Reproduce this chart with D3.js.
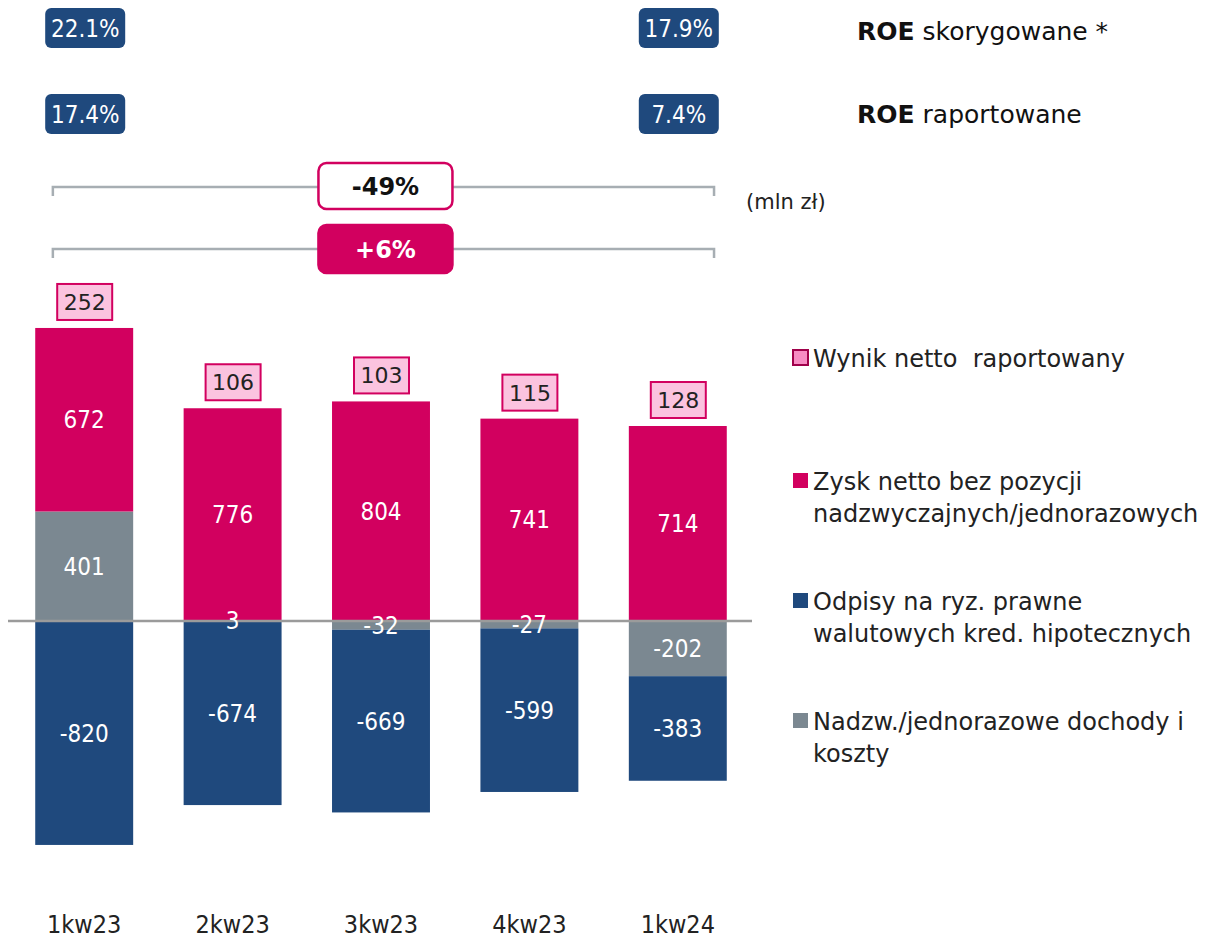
<!DOCTYPE html>
<html>
<head>
<meta charset="utf-8">
<script src="https://cdn.jsdelivr.net/npm/d3@7"></script>
<style>
  body { margin: 0; background: #fff; }
  svg { display: block; }
  .narrow { font-family: "Liberation Sans Narrow", "DejaVu Sans Condensed", sans-serif; }
  .sans { font-family: "DejaVu Sans", "Noto Sans", sans-serif; }
</style>
</head>
<body>
<div id="chart"></div>
<script>
const W = 1206, H = 938;

// data (mln zł)
const QUARTERS = ["1kw23", "2kw23", "3kw23", "4kw23", "1kw24"];
const ZYSK = [672, 776, 804, 741, 714];      // zysk netto bez poz. nadzw.
const NADZW = [401, 3, -32, -27, -202];      // nadzw./jednorazowe
const ODPISY = [-820, -674, -669, -599, -383]; // odpisy na ryz. prawne
const WYNIK = [252, 106, 103, 115, 128];     // wynik netto raportowany

const ROE_QUARTERS = ["1kw23", "1kw24"];
const ROE_ADJ = ["22.1%", "17.9%"];
const ROE_REP = ["17.4%", "7.4%"];
const CHANGES = ["-49%", "+6%"];

const PINK = "#d2005f", GREY = "#7b8891", BLUE = "#1f497d";

const rows = QUARTERS.map((q, i) => ({
  q, nadzw: NADZW[i], zysk: ZYSK[i], odpisy: ODPISY[i], wynik: WYNIK[i],
}));
const KEYS = ["nadzw", "zysk", "odpisy"];
const color = d3.scaleOrdinal().domain(KEYS).range([GREY, PINK, BLUE]);

const svg = d3.select("#chart").append("svg").attr("width", W).attr("height", H);

const x = d3.scaleBand().domain(QUARTERS).range([10, 752])
  .paddingInner(0.34).paddingOuter(0.17);
const y = d3.scaleLinear().domain([-1000, 1000]).range([621 + 273.1, 621 - 273.1]);

const series = d3.stack().keys(KEYS).offset(d3.stackOffsetDiverging)(rows);

// bars
const layer = svg.append("g").selectAll("g").data(series).join("g")
  .attr("fill", d => color(d.key));
layer.selectAll("rect").data(d => d).join("rect")
  .attr("x", d => x(d.data.q))
  .attr("width", x.bandwidth())
  .attr("y", d => y(Math.max(d[0], d[1])))
  .attr("height", d => Math.abs(y(d[0]) - y(d[1])));

// zero line
svg.append("line")
  .attr("x1", 8).attr("x2", 752)
  .attr("y1", y(0)).attr("y2", y(0))
  .attr("stroke", "#9b9b9b").attr("stroke-width", 2.5);

// segment labels
const labels = svg.append("g").selectAll("g").data(series).join("g");
labels.selectAll("text").data(s => s.map(v => ({ v, key: s.key }))).join("text")
  .attr("class", "narrow")
  .attr("x", d => x(d.v.data.q) + x.bandwidth() / 2)
  .attr("y", d => y((d.v[0] + d.v[1]) / 2))
  .attr("dy", "0.36em")
  .attr("text-anchor", "middle")
  .attr("fill", "#fff")
  .style("font-size", "24px")
  .text(d => d.v.data[d.key]);

// reported net result boxes above the bars
const barTop = d => y(Math.max(0, d.zysk + Math.max(0, d.nadzw)));
const wg = svg.append("g").selectAll("g").data(rows).join("g")
  .attr("transform", d => `translate(${x(d.q) + x.bandwidth() / 2},${barTop(d) - 7})`);
wg.append("rect")
  .attr("x", -27).attr("y", -37).attr("width", 55).attr("height", 36)
  .attr("fill", "#fbc3df").attr("stroke", PINK).attr("stroke-width", 2);
wg.append("text")
  .attr("class", "sans")
  .attr("x", 0.5).attr("y", -19).attr("dy", "0.36em")
  .attr("text-anchor", "middle")
  .attr("fill", "#222")
  .style("font-size", "22px")
  .text(d => d.wynik);

// ROE boxes
function roeRow(vals, y0) {
  const g = svg.append("g").selectAll("g").data(vals).join("g")
    .attr("transform", (d, i) => `translate(${x(ROE_QUARTERS[i]) + x.bandwidth() / 2 + 1},${y0})`);
  g.append("rect")
    .attr("x", -40).attr("width", 80).attr("height", 40).attr("rx", 6)
    .attr("fill", BLUE);
  g.append("text")
    .attr("class", "narrow")
    .attr("y", 20).attr("dy", "0.36em")
    .attr("text-anchor", "middle").attr("fill", "#fff")
    .style("font-size", "24px")
    .text(d => d);
}
roeRow(ROE_ADJ, 8);
roeRow(ROE_REP, 94);

// ROE legend
[["skorygowane *", 40], ["raportowane", 123]].forEach(([label, by]) => {
  const t = svg.append("text").attr("class", "sans")
    .attr("x", 857).attr("y", by).attr("fill", "#111").style("font-size", "25px");
  t.append("tspan").attr("font-weight", "bold").text("ROE");
  t.append("tspan").text(" " + label);
});

// change brackets
const bx0 = x(QUARTERS[0]) + x.bandwidth() * 0.18;
const bx1 = x(QUARTERS[4]) + x.bandwidth() * 0.87;
const bxm = (bx0 + bx1) / 2 + 2;
[[CHANGES[0], 187, 163, 46, false], [CHANGES[1], 249, 225, 48, true]].forEach(([label, ly, ry, rh, filled]) => {
  svg.append("path")
    .attr("d", `M${bx0},${ly + 9}V${ly}H${bx1}V${ly + 9}`)
    .attr("fill", "none").attr("stroke", "#a7aeb3").attr("stroke-width", 2.5);
  svg.append("rect")
    .attr("x", bxm - 67).attr("y", ry).attr("width", 134).attr("height", rh).attr("rx", 8)
    .attr("fill", filled ? PINK : "#fff")
    .attr("stroke", PINK).attr("stroke-width", 2.5);
  svg.append("text").attr("class", "sans")
    .attr("x", bxm).attr("y", ry + rh / 2).attr("dy", "0.36em")
    .attr("text-anchor", "middle").attr("font-weight", "bold")
    .attr("fill", filled ? "#fff" : "#111")
    .style("font-size", "24px")
    .text(label);
});

svg.append("text").attr("class", "sans")
  .attr("x", 746).attr("y", 209).attr("fill", "#222").style("font-size", "21px")
  .text("(mln zł)");

// x axis labels
svg.append("g").selectAll("text").data(QUARTERS).join("text")
  .attr("class", "narrow")
  .attr("x", d => x(d) + x.bandwidth() / 2)
  .attr("y", 933)
  .attr("text-anchor", "middle").attr("fill", "#222")
  .style("font-size", "25px")
  .text(d => d);

// legend
const LEGEND = [
  { lines: ["Wynik netto  raportowany"], fill: "#f78cc3", stroke: "#a0004a", y: 350 },
  { lines: ["Zysk netto bez pozycji", "nadzwyczajnych/jednorazowych"], fill: PINK, y: 473 },
  { lines: ["Odpisy na ryz. prawne", "walutowych kred. hipotecznych"], fill: BLUE, y: 593 },
  { lines: ["Nadzw./jednorazowe dochody i", "koszty"], fill: GREY, y: 713 },
];
const lg = svg.append("g").selectAll("g").data(LEGEND).join("g");
lg.append("rect")
  .attr("x", 793).attr("y", d => d.y)
  .attr("width", 15).attr("height", 15)
  .attr("fill", d => d.fill)
  .attr("stroke", d => d.stroke || "none").attr("stroke-width", 2);
lg.append("text").attr("class", "sans")
  .attr("fill", "#222").style("font-size", "24px").style("white-space", "pre")
  .selectAll("tspan").data(d => d.lines.map((l, i) => ({ l, i, y: d.y }))).join("tspan")
  .attr("x", 813).attr("y", d => d.y + 17 + d.i * 32)
  .text(d => d.l);
</script>
</body>
</html>
